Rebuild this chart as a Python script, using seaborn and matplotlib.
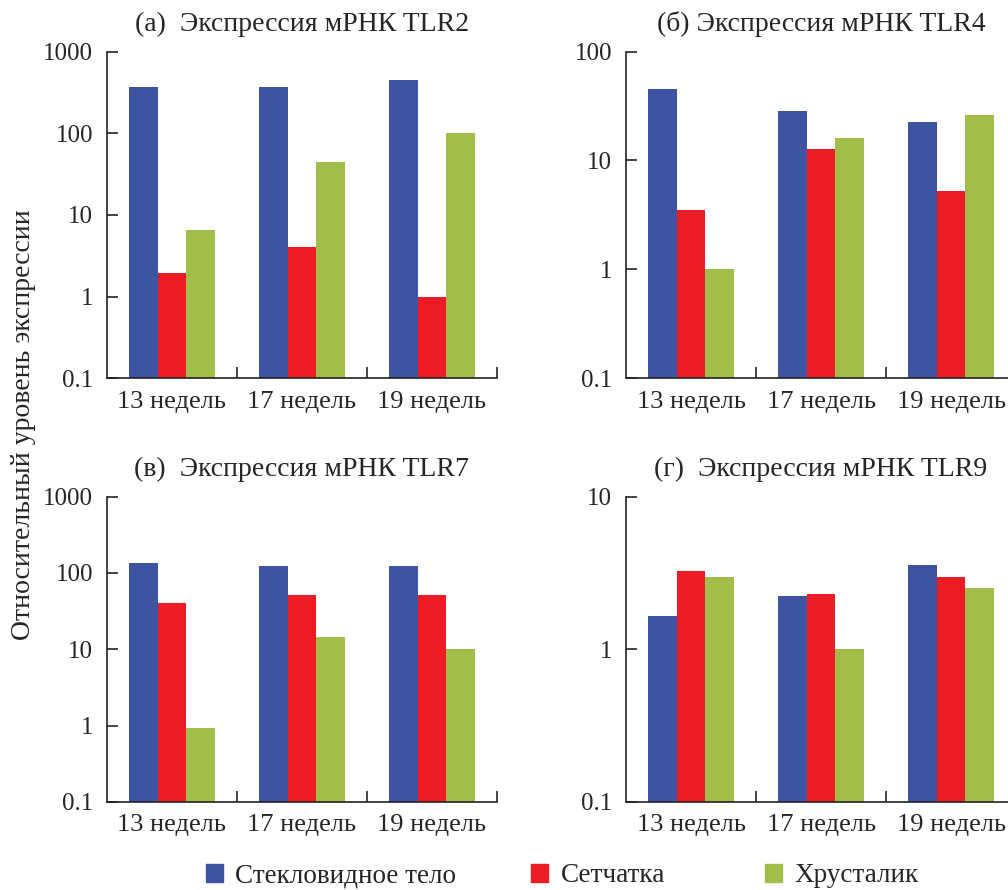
import pandas as pd
import matplotlib
matplotlib.use("Agg")
import matplotlib.pyplot as plt
import seaborn as sns

# Data
weeks = ["13 недель", "17 недель", "19 недель"]
tissues = ["Стекловидное тело", "Сетчатка", "Хрусталик"]
colors = ["#3F53A3", "#EC1C24", "#A1BD4A"]

# each list: vitreous, retina, lens for the three weeks
tlr2_vitreous = [370, 370, 450]
tlr2_retina = [1.95, 4.1, 1.0]
tlr2_lens = [6.6, 45, 100]

tlr4_vitreous = [45, 28.5, 22.5]
tlr4_retina = [3.5, 12.8, 5.3]
tlr4_lens = [1.0, 16, 26]

tlr7_vitreous = [136, 123, 123]
tlr7_retina = [40, 52, 52]
tlr7_lens = [0.94, 14.4, 10]

tlr9_vitreous = [1.65, 2.23, 3.55]
tlr9_retina = [3.25, 2.3, 2.97]
tlr9_lens = [2.97, 1.0, 2.52]

titles = ["(а)  Экспрессия мРНК TLR2", "(б) Экспрессия мРНК TLR4",
          "(в)  Экспрессия мРНК TLR7", "(г)  Экспрессия мРНК TLR9"]
ymax = [1000, 100, 1000, 10]

panels = [
    [tlr2_vitreous, tlr2_retina, tlr2_lens],
    [tlr4_vitreous, tlr4_retina, tlr4_lens],
    [tlr7_vitreous, tlr7_retina, tlr7_lens],
    [tlr9_vitreous, tlr9_retina, tlr9_lens],
]


def to_long(series):
    rows = []
    for tissue, vals in zip(tissues, series):
        for w, v in zip(weeks, vals):
            rows.append({"week": w, "tissue": tissue, "value": v})
    return pd.DataFrame(rows)


sns.set_style("ticks")
plt.rcParams["font.family"] = ["Liberation Serif", "DejaVu Serif"]
plt.rcParams["font.size"] = 18.5

fig = plt.figure(figsize=(10.08, 8.9), dpi=100)

# axes boxes in figure fractions (left, bottom, width, height)
boxes = [
    (0.106, 0.575, 0.387, 0.367),
    (0.621, 0.575, 0.387, 0.367),
    (0.106, 0.099, 0.387, 0.343),
    (0.621, 0.099, 0.387, 0.343),
]

for i, (box, series) in enumerate(zip(boxes, panels)):
    ax = fig.add_axes(box)
    df = to_long(series)
    sns.barplot(data=df, x="week", y="value", hue="tissue", order=weeks,
                hue_order=tissues, palette=colors, saturation=1, width=0.66, gap=0,
                linewidth=0, log_scale=True, legend=False, ax=ax)
    ax.set_yscale("log")
    ax.set_ylim(0.1, ymax[i])
    ax.set_xlim(-0.5, 2.5)
    yt = [t for t in [0.1, 1, 10, 100, 1000] if t <= ymax[i]]
    ax.set_yticks(yt)
    ax.set_yticklabels([("%g" % t) for t in yt], fontsize=18)
    ax.yaxis.set_minor_locator(matplotlib.ticker.NullLocator())
    ax.tick_params(axis="y", which="major", direction="in", length=8, width=1.2, pad=10)
    ax.set_xticks([0, 1, 2])
    ax.set_xticklabels(weeks, fontsize=19)
    ax.tick_params(axis="x", which="major", length=0, pad=9)
    ax.set_xticks([0.5, 1.5, 2.5], minor=True)
    ax.tick_params(axis="x", which="minor", direction="in", length=8, width=1.2)
    ax.set_xlabel("")
    ax.set_ylabel("")
    ax.set_title(titles[i], pad=15, fontsize=20)
    for s in ["top", "right"]:
        ax.spines[s].set_visible(False)
    for s in ["left", "bottom"]:
        ax.spines[s].set_linewidth(1.2)
        ax.spines[s].set_color("#222222")

fig.text(0.023, 0.523, "Относительный уровень экспрессии", rotation=90,
         va="center", ha="center", fontsize=20)

# legend entries placed one by one, as in the source figure
legend_x = [0.204, 0.527, 0.759]
for c, t, x in zip(colors, tissues, legend_x):
    h = matplotlib.patches.Patch(color=c, label=t)
    fig.legend(handles=[h], loc="center left", bbox_to_anchor=(x, 0.016),
               frameon=False, borderpad=0, borderaxespad=0,
               handlelength=0.63, handleheight=0.63, handletextpad=0.45,
               fontsize=19.5)

fig.savefig("out.png", dpi=100)
